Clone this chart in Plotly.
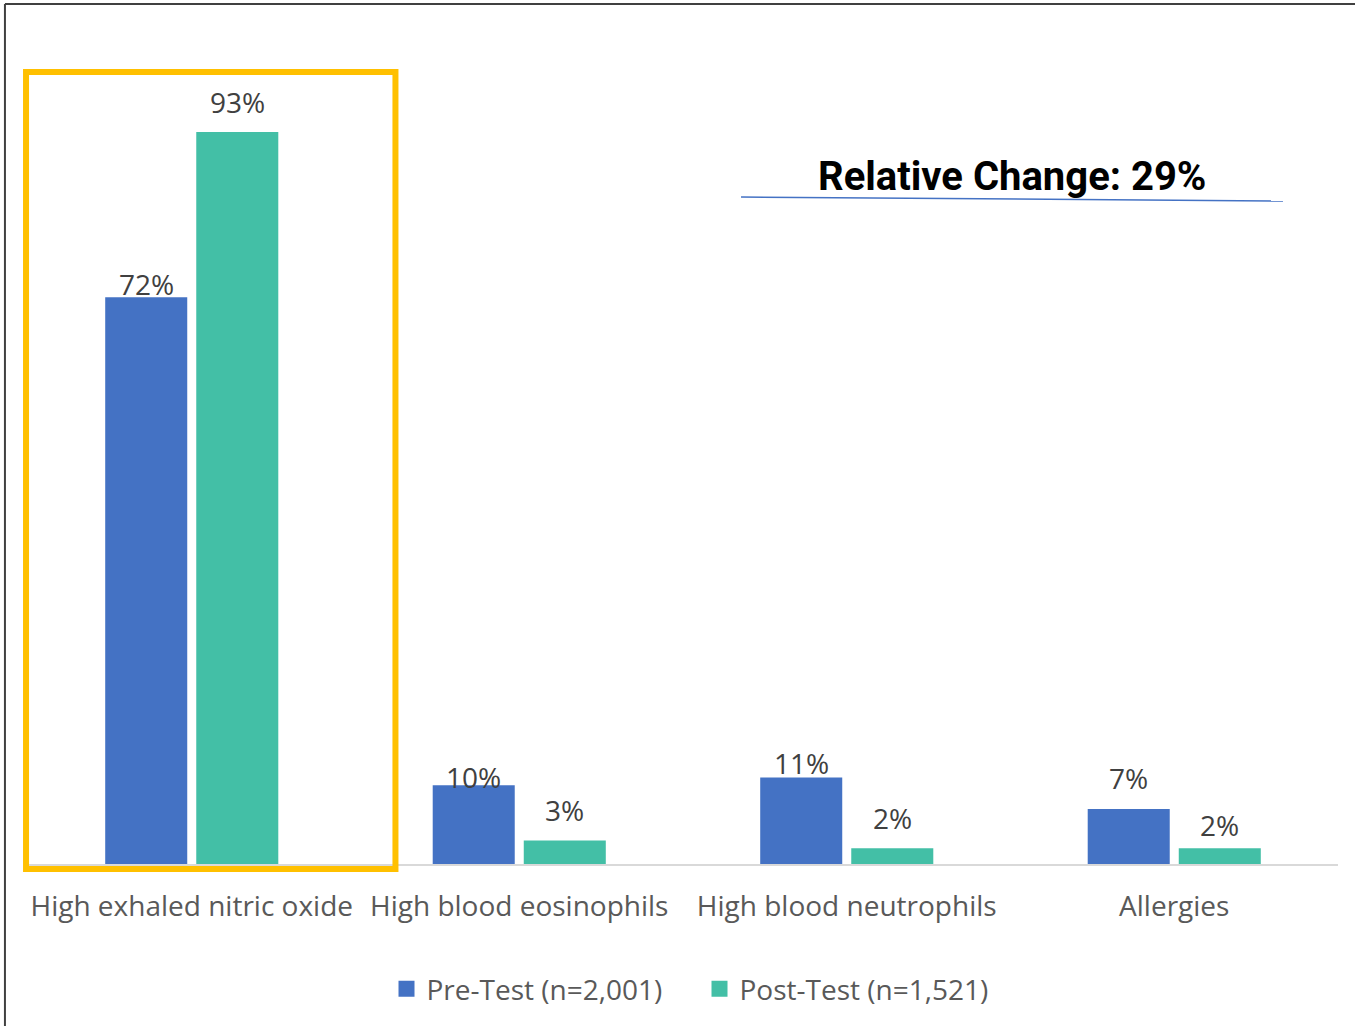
import plotly.graph_objects as go

# Categories and series values (percent of patients)
categories = ["High exhaled nitric oxide", "High blood eosinophils",
              "High blood neutrophils", "Allergies"]
pre_test = [72, 10, 11, 7]
post_test = [93, 3, 2, 2]
series_names = ["Pre-Test (n=2,001)", "Post-Test (n=1,521)"]
callout_text = "Relative Change: 29%"

# Styling
BLUE = "#4472C4"
TEAL = "#43BFA6"
FONT = "'Open Sans', Lato, sans-serif"
LABEL_COLOR = "#404040"
AXIS_TEXT = "#595959"

# Vertical offset of each value label above its bar (pixels)
pre_label_shift = [13, 8, 14, 31]
post_label_shift = [30, 30, 30, 23]

fig = go.Figure()
for vals, name, color in ((pre_test, series_names[0], BLUE),
                          (post_test, series_names[1], TEAL)):
    fig.add_trace(go.Bar(x=categories, y=vals, name=name, showlegend=False,
                         legendgroup=name,
                         marker=dict(color=color, line=dict(width=0))))
    # Legend entry with a larger square swatch
    fig.add_trace(go.Scatter(x=[None], y=[None], mode="markers", name=name,
                             legendgroup=name,
                             marker=dict(symbol="square", size=17, color=color)))

# Value labels above each bar
for series, shifts, xshift in ((pre_test, pre_label_shift, -45.5),
                               (post_test, post_label_shift, 45.5)):
    for cat, val, ys in zip(categories, series, shifts):
        fig.add_annotation(x=cat, y=val, text=f"{val}%", showarrow=False,
                           xshift=xshift, yshift=ys, yanchor="middle",
                           font=dict(family=FONT, size=28, color=LABEL_COLOR))

# Callout text with its underline
fig.add_annotation(x=0.7515, y=0.874, xref="paper", yref="paper",
                   text=callout_text, showarrow=False,
                   xanchor="center", yanchor="middle",
                   font=dict(family="Roboto, sans-serif", size=40,
                             weight=700, color="#000000"))
fig.add_shape(type="line", xref="paper", yref="paper",
              x0=0.5443, y0=0.8475, x1=0.958, y1=0.8424,
              line=dict(color=BLUE, width=1.5))

# Highlight box around the first category
fig.add_shape(type="rect", xref="paper", yref="paper",
              x0=-0.0015, x1=0.2805, y0=-0.0064, y1=1.0064,
              line=dict(color="#FFC000", width=6), fillcolor="rgba(0,0,0,0)")

# Outer frame (top and left edges)
fig.add_shape(type="line", xref="paper", yref="paper",
              x0=-0.0176, y0=1.0928, x1=1.05, y1=1.0928,
              line=dict(color="#404040", width=2))
fig.add_shape(type="line", xref="paper", yref="paper",
              x0=-0.0176, y0=1.0928, x1=-0.0176, y1=-0.3,
              line=dict(color="#404040", width=2))

fig.update_layout(
    width=1355, height=1026,
    margin=dict(l=28, r=17, t=77, b=162),
    paper_bgcolor="white", plot_bgcolor="white",
    barmode="group", bargap=0.444, bargroupgap=0.099,
    showlegend=True,
    legend=dict(orientation="h", x=0.5126, xanchor="center",
                y=-0.159, yanchor="middle",
                font=dict(family=FONT, size=28, color=AXIS_TEXT),
                itemsizing="trace", itemwidth=30, tracegroupgap=0,
                entrywidth=268),
    xaxis=dict(showgrid=False, showline=True, linecolor="#D9D9D9", linewidth=2,
               ticks="", ticklabelstandoff=16,
               tickfont=dict(family=FONT, size=28, color=AXIS_TEXT)),
    yaxis=dict(range=[0, 100], visible=False, showgrid=False, zeroline=False),
)

fig.write_html("out.html")
